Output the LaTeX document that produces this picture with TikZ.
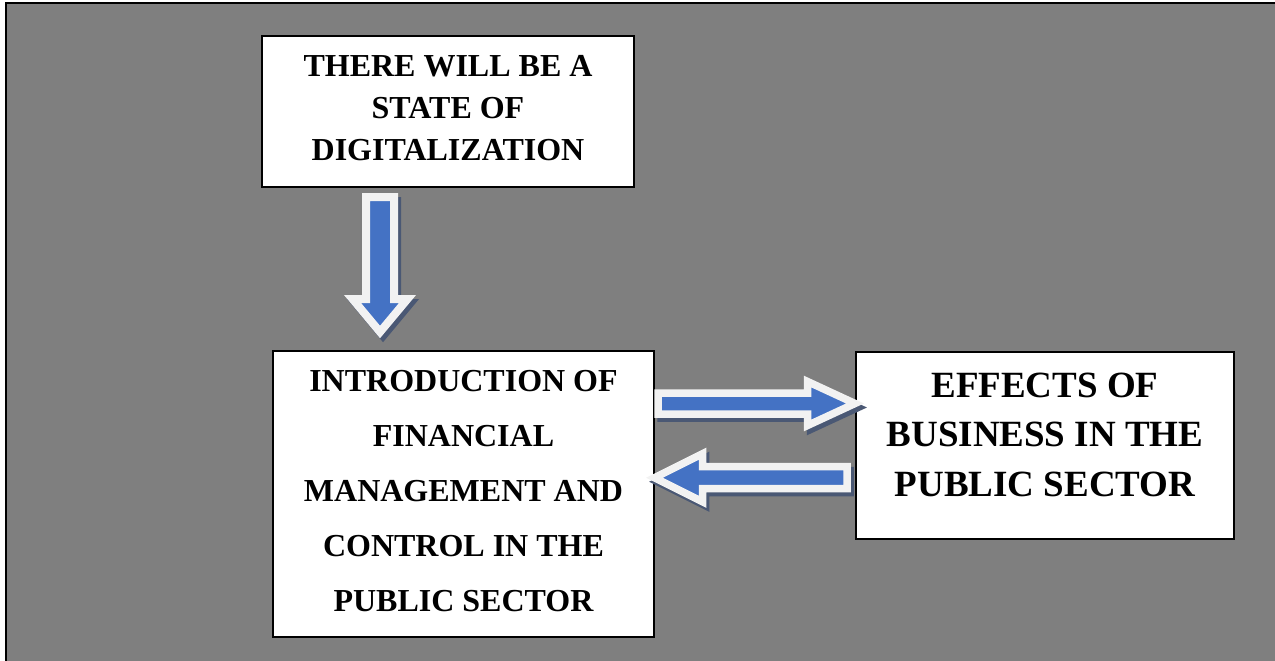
\documentclass[tikz,border=0pt]{standalone}
\usepackage{fontspec}
\setmainfont{Liberation Serif}
\definecolor{panelgray}{HTML}{7F7F7F}
\definecolor{arrowblue}{HTML}{4472C4}
\definecolor{arrowrim}{HTML}{F2F2F2}
\definecolor{arrowshade}{HTML}{4A5874}
\begin{document}
\begin{tikzpicture}[x=1pt, y=-1pt,
    stagebox/.style={draw=black, fill=white, line width=2pt, inner sep=0pt},
    stagetext/.style={align=center, inner sep=0pt, font=\bfseries\fontsize{32}{#1}\selectfont},
    blockarrow/.style={line join=miter, fill=arrowblue, draw=arrowrim},
    arrowshadow/.style={line join=miter, fill=arrowshade, draw=arrowshade}
  ]
  \useasboundingbox (0,0) rectangle (1275,661);
  \fill[white] (0,0) rectangle (1275,661);
  \draw[fill=panelgray, line width=2.5pt] (6,3.2) rectangle (1290,680);
  % boxes
  \node[stagebox, minimum width=372pt, minimum height=151pt,
    label={[stagetext=42pt, yshift=3.5pt]center:{THERE WILL BE A\\STATE OF\\DIGITALIZATION}}]
    (digital) at (448,111.5) {};
  \node[stagebox, minimum width=381pt, minimum height=286pt,
    label={[stagetext=55pt, yshift=2.5pt]center:{INTRODUCTION OF\\FINANCIAL\\MANAGEMENT AND\\CONTROL IN THE\\PUBLIC SECTOR}}]
    (intro) at (463.5,494) {};
  \node[stagebox, minimum width=378pt, minimum height=187pt,
    label={[align=center, inner sep=0pt, yshift=11pt,
      font=\bfseries\fontsize{37}{49.5}\selectfont]center:{EFFECTS OF\\BUSINESS IN THE\\PUBLIC SECTOR}}]
    (effects) at (1045,445.5) {};
  % block arrows: tail point, direction, length, head base, half shaft, half head
  \foreach \x/\y/\rot/\len/\hb/\s/\h/\lw in {%
    380/197/-90/135/102/14/27.5/8,
    658/403.5/0/197/149.5/10.5/22/7.5,
    847/477.7/180/192.5/144.5/11/24/7.5%
  }{
    \foreach \sty/\dx/\dy in {arrowshadow/3/4, blockarrow/0/0} {
      \begin{scope}[shift={(\x+\dx,\y+\dy)}, rotate=\rot]
        \draw[\sty, line width=\lw pt]
          (0,-\s) -- (\hb,-\s) -- (\hb,-\h) -- (\len,0)
          -- (\hb,\h) -- (\hb,\s) -- (0,\s) -- cycle;
      \end{scope}
    }
  }
\end{tikzpicture}
\end{document}
